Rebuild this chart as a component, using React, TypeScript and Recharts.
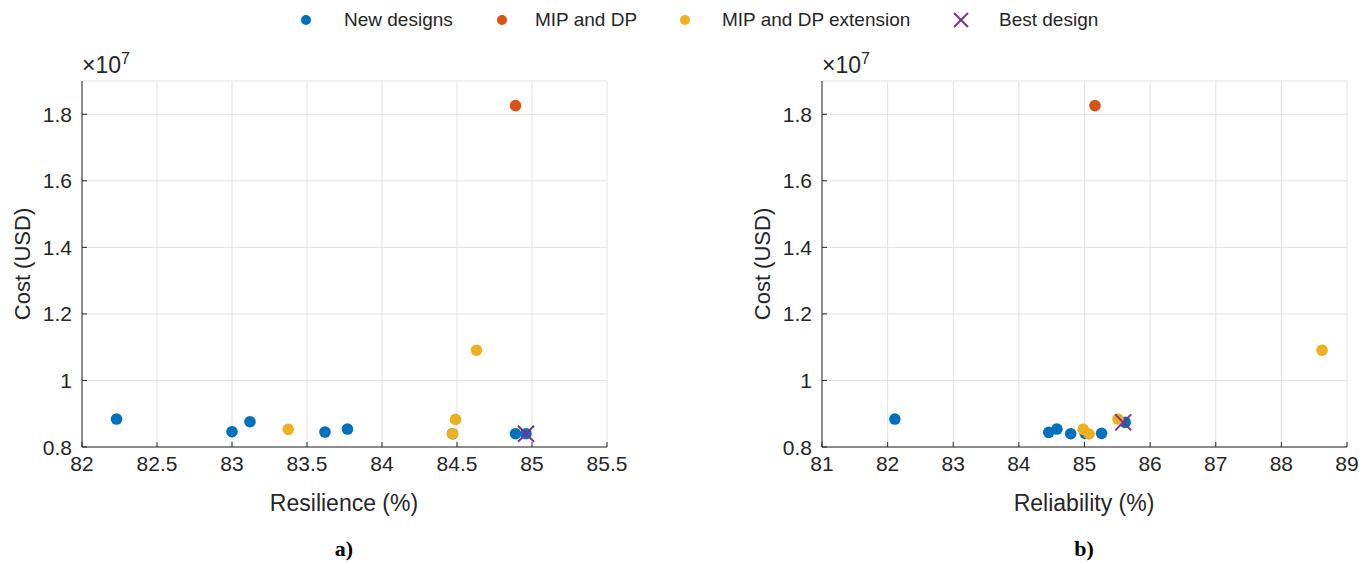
import React from "react";
import {
    CartesianGrid,
    Scatter,
    ScatterChart,
    XAxis,
    YAxis,
} from "recharts";

// series names (legend order)
const seriesNames = ["New designs", "MIP and DP", "MIP and DP extension", "Best design"];

// a) resilience vs cost
const newDesignsRes = [
    { x: 82.23, y: 8.84e6 },
    { x: 83.0, y: 8.46e6 },
    { x: 83.12, y: 8.76e6 },
    { x: 83.62, y: 8.45e6 },
    { x: 83.77, y: 8.54e6 },
    { x: 84.47, y: 8.4e6 },
    { x: 84.89, y: 8.4e6 },
    { x: 84.96, y: 8.4e6 },
];
const mipDpRes = [{ x: 84.89, y: 1.826e7 }];
const mipDpExtRes = [
    { x: 83.375, y: 8.53e6 },
    { x: 84.49, y: 8.83e6 },
    { x: 84.47, y: 8.4e6 },
    { x: 84.63, y: 1.091e7 },
];
const bestRes = [{ x: 84.96, y: 8.4e6 }];

// b) reliability vs cost
const newDesignsRel = [
    { x: 82.11, y: 8.84e6 },
    { x: 84.455, y: 8.44e6 },
    { x: 84.58, y: 8.54e6 },
    { x: 84.79, y: 8.4e6 },
    { x: 85.01, y: 8.41e6 },
    { x: 85.26, y: 8.41e6 },
    { x: 85.62, y: 8.74e6 },
];
const mipDpRel = [{ x: 85.16, y: 1.826e7 }];
const mipDpExtRel = [
    { x: 84.98, y: 8.53e6 },
    { x: 85.07, y: 8.39e6 },
    { x: 85.51, y: 8.84e6 },
    { x: 88.62, y: 1.091e7 },
];
const bestRel = [{ x: 85.59, y: 8.74e6 }];

// axis ticks
const resTicks = [82, 82.5, 83, 83.5, 84, 84.5, 85, 85.5];
const relTicks = [81, 82, 83, 84, 85, 86, 87, 88, 89];
const costTicks = [8e6, 1e7, 1.2e7, 1.4e7, 1.6e7, 1.8e7];

const COLORS = ["#0072BD", "#D95319", "#EDB120", "#7E2F8E"];
const TEXT = "#262626";
const FONT = "'Liberation Sans', Arial, Helvetica, sans-serif";

const fmtCost = (v: number) => (v / 1e7).toFixed(1).replace(/\.0$/, "");

const dot = (color: string) => (p: any) => (
    <circle cx={p.cx} cy={p.cy} r={5.8} fill={color} />
);

const cross = (color: string) => (p: any) => (
    <g stroke={color} strokeWidth={2}>
        <line x1={p.cx - 8} y1={p.cy - 8} x2={p.cx + 8} y2={p.cy + 8} />
        <line x1={p.cx - 8} y1={p.cy + 8} x2={p.cx + 8} y2={p.cy - 8} />
    </g>
);

const BottomTick = (props: any) => {
    const { x, y, payload } = props;
    return (
        <g>
            <line x1={x} x2={x} y1={y} y2={y - 5} stroke={TEXT} />
            <text
                x={x}
                y={y + 16}
                textAnchor="middle"
                dominantBaseline="central"
                fontSize={21}
                fontFamily={FONT}
                fill={TEXT}
            >
                {payload.value}
            </text>
        </g>
    );
};

const LeftTick = (props: any) => {
    const { x, y, payload } = props;
    return (
        <g>
            <line x1={x} x2={x + 5} y1={y} y2={y} stroke={TEXT} />
            <text
                x={x - 10}
                y={y}
                textAnchor="end"
                dominantBaseline="central"
                fontSize={21}
                fontFamily={FONT}
                fill={TEXT}
            >
                {fmtCost(payload.value)}
            </text>
        </g>
    );
};

const TopTick = (props: any) => (
    <line x1={props.x} x2={props.x} y1={props.y} y2={props.y + 5} stroke={TEXT} />
);

const RightTick = (props: any) => (
    <line x1={props.x} x2={props.x - 5} y1={props.y} y2={props.y} stroke={TEXT} />
);

interface PanelProps {
    left: number;
    xDomain: [number, number];
    xTicks: number[];
    xLabel: string;
    tag: string;
    newDesigns: { x: number; y: number }[];
    mipDp: { x: number; y: number }[];
    mipDpExt: { x: number; y: number }[];
    best: { x: number; y: number }[];
}

function Panel({ left, xDomain, xTicks, xLabel, tag, newDesigns, mipDp, mipDpExt, best }: PanelProps) {
    return (
        <div style={{ position: "absolute", left, top: 0, width: 660, height: 563 }}>
            <ScatterChart
                width={660}
                height={563}
                margin={{ top: 81, right: 53, bottom: 0, left: 0 }}
            >
                <CartesianGrid stroke="#e3e3e3" strokeWidth={1} />
                <XAxis
                    type="number"
                    dataKey="x"
                    domain={xDomain}
                    ticks={xTicks}
                    allowDataOverflow
                    height={116}
                    tickSize={0}
                    tickMargin={0}
                    tickLine={false}
                    axisLine={{ stroke: TEXT }}
                    tick={<BottomTick />}
                    interval={0}
                />
                <XAxis
                    xAxisId="top"
                    orientation="top"
                    type="number"
                    domain={xDomain}
                    ticks={xTicks}
                    allowDataOverflow
                    height={0}
                    tickSize={0}
                    tickMargin={0}
                    tickLine={false}
                    axisLine={{ stroke: TEXT }}
                    tick={<TopTick />}
                    interval={0}
                />
                <YAxis
                    type="number"
                    dataKey="y"
                    domain={[8e6, 1.9e7]}
                    ticks={costTicks}
                    allowDataOverflow
                    width={82}
                    tickSize={0}
                    tickMargin={0}
                    tickLine={false}
                    axisLine={{ stroke: TEXT }}
                    tick={<LeftTick />}
                    interval={0}
                />
                <YAxis
                    yAxisId="right"
                    orientation="right"
                    type="number"
                    domain={[8e6, 1.9e7]}
                    ticks={costTicks}
                    allowDataOverflow
                    width={0}
                    tickSize={0}
                    tickMargin={0}
                    tickLine={false}
                    axisLine={{ stroke: TEXT }}
                    tick={<RightTick />}
                    interval={0}
                />
                <Scatter name={seriesNames[0]} data={newDesigns} shape={dot(COLORS[0])} isAnimationActive={false} />
                <Scatter name={seriesNames[1]} data={mipDp} shape={dot(COLORS[1])} isAnimationActive={false} />
                <Scatter name={seriesNames[2]} data={mipDpExt} shape={dot(COLORS[2])} isAnimationActive={false} />
                <Scatter name={seriesNames[3]} data={best} shape={cross(COLORS[3])} isAnimationActive={false} />
            </ScatterChart>

            {/* exponent */}
            <div
                style={{
                    position: "absolute",
                    left: 82,
                    top: 50,
                    fontFamily: FONT,
                    fontSize: 23,
                    color: TEXT,
                    whiteSpace: "nowrap",
                }}
            >
                ×10<sup style={{ fontSize: 16, verticalAlign: "9px" }}>7</sup>
            </div>

            {/* y title */}
            <div
                style={{
                    position: "absolute",
                    left: 23,
                    top: 264,
                    transform: "translate(-50%, -50%) rotate(-90deg)",
                    fontFamily: FONT,
                    fontSize: 22,
                    color: TEXT,
                    whiteSpace: "nowrap",
                }}
            >
                Cost (USD)
            </div>

            {/* x title */}
            <div
                style={{
                    position: "absolute",
                    left: 344,
                    top: 503,
                    transform: "translate(-50%, -50%)",
                    fontFamily: FONT,
                    fontSize: 23,
                    color: TEXT,
                    whiteSpace: "nowrap",
                }}
            >
                {xLabel}
            </div>

            {/* panel tag */}
            <div
                style={{
                    position: "absolute",
                    left: 344,
                    top: 549,
                    transform: "translate(-50%, -50%)",
                    fontFamily: "'Liberation Serif', 'Times New Roman', serif",
                    fontWeight: 700,
                    fontSize: 22,
                    color: "#000",
                }}
            >
                {tag}
            </div>
        </div>
    );
}

// legend layout: marker centre and text start per item
const legendMarkerX = [306, 502, 685, 961];
const legendTextX = [344, 535, 722, 999];

function Legend() {
    return (
        <>
            {seriesNames.map((name, i) => (
                <React.Fragment key={name}>
                    <svg
                        width={20}
                        height={20}
                        style={{ position: "absolute", left: legendMarkerX[i] - 10, top: 10 }}
                    >
                        {i < 3 ? (
                            <circle cx={10} cy={10} r={5} fill={COLORS[i]} />
                        ) : (
                            <g stroke={COLORS[3]} strokeWidth={2}>
                                <line x1={3} y1={3} x2={17} y2={17} />
                                <line x1={3} y1={17} x2={17} y2={3} />
                            </g>
                        )}
                    </svg>
                    <div
                        style={{
                            position: "absolute",
                            left: legendTextX[i],
                            top: 20,
                            transform: "translateY(-50%)",
                            fontFamily: FONT,
                            fontSize: 19,
                            color: TEXT,
                            whiteSpace: "nowrap",
                        }}
                    >
                        {name}
                    </div>
                </React.Fragment>
            ))}
        </>
    );
}

export default function App() {
    return (
        <div
            style={{
                position: "absolute",
                left: 0,
                top: 0,
                width: 1372,
                height: 563,
                background: "#fff",
                overflow: "hidden",
            }}
        >
            <Legend />
            <Panel
                left={0}
                xDomain={[82, 85.5]}
                xTicks={resTicks}
                xLabel="Resilience (%)"
                tag="a)"
                newDesigns={newDesignsRes}
                mipDp={mipDpRes}
                mipDpExt={mipDpExtRes}
                best={bestRes}
            />
            <Panel
                left={740}
                xDomain={[81, 89]}
                xTicks={relTicks}
                xLabel="Reliability (%)"
                tag="b)"
                newDesigns={newDesignsRel}
                mipDp={mipDpRel}
                mipDpExt={mipDpExtRel}
                best={bestRel}
            />
        </div>
    );
}
